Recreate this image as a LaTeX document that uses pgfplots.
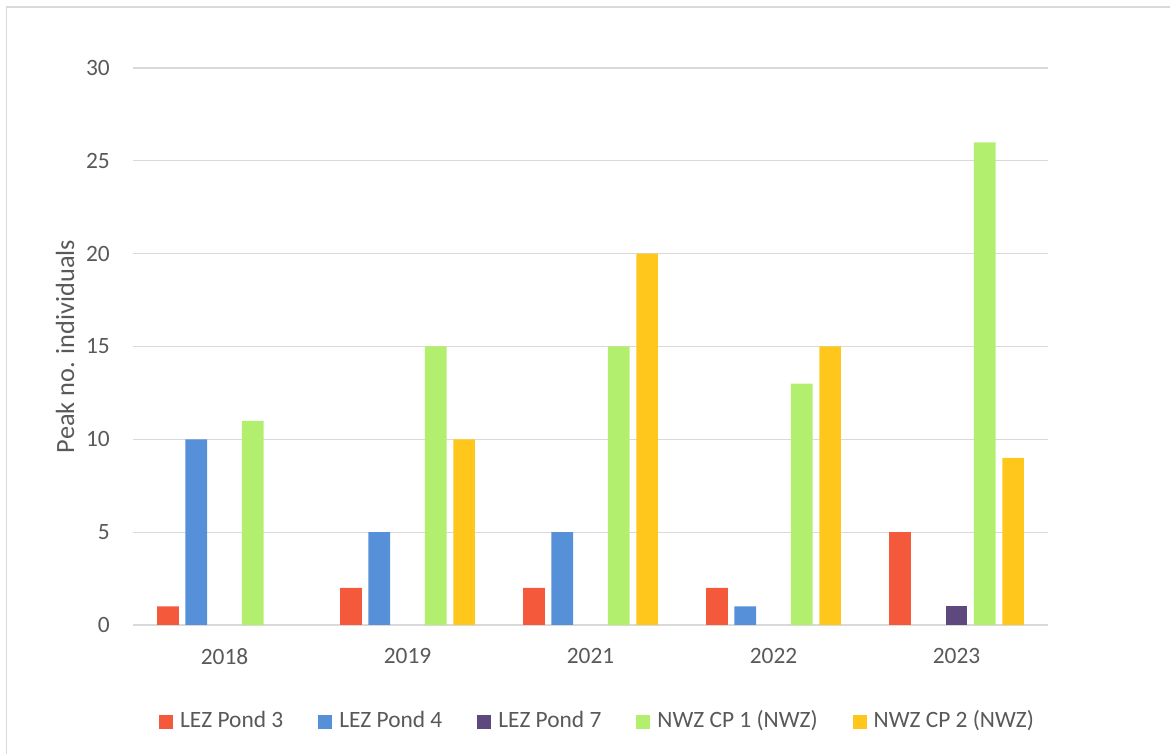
\documentclass[border=0pt]{standalone}
\usepackage{fontspec}
\setmainfont{Carlito}
\usepackage{pgfplots}
\pgfplotsset{compat=1.18}

\definecolor{lezthree}{HTML}{F4593B}
\definecolor{lezfour}{HTML}{5590D8}
\definecolor{lezseven}{HTML}{5E497E}
\definecolor{cpone}{HTML}{B3EF6E}
\definecolor{cptwo}{HTML}{FFC71C}
\definecolor{gridgray}{HTML}{D9D9D9}
\definecolor{textgray}{HTML}{595959}

\newcommand{\tickfont}{\fontsize{23.4}{28}\selectfont}
\newcommand{\titlefont}{\fontsize{26.3}{31}\selectfont}

\begin{document}
\begin{tikzpicture}
\useasboundingbox (0pt,0pt) rectangle (1170pt,754pt);
% chart frame
\draw[gridgray, line width=1.5pt] (6.5pt,0pt) -- (6.5pt,747pt) -- (1170pt,747pt);
\begin{axis}[
  at={(133pt,129pt)}, anchor=south west,
  scale only axis, width=915pt, height=557pt,
  ybar, bar width=21.7pt, ybar=6.6pt,
  xmin=-0.5, xmax=4.5, ymin=0, ymax=30,
  enlargelimits=false,
  xtick={0,1,2,3,4},
  xticklabels={2018,2019,2021,2022,2023},
  ytick={0,5,10,15,20,25,30},
  yticklabels={0,5,10,15,20,25,30},
  major tick length=0pt,
  axis x line*=bottom,
  axis y line*=left,
  x axis line style={gridgray, line width=1.6pt},
  y axis line style={draw=none},
  ymajorgrids,
  grid style={gridgray, line width=1.3pt},
  /pgf/number format/assume math mode=true,
  xticklabel style={font=\tickfont, text=textgray, anchor=north, inner sep=0pt, yshift=-23pt},
  yticklabel style={font=\tickfont, text=textgray, anchor=east, inner sep=0pt, xshift=-23pt},
  ylabel={Peak no. individuals},
  ylabel style={font=\titlefont, text=textgray, at={(axis description cs:-0.0743,0.5)}, anchor=center},
  legend columns=5,
  legend style={at={(axis description cs:0.5077,-0.1706)}, anchor=center, draw=none,
    font=\tickfont, text=textgray,
    /tikz/every odd column/.append style={column sep=5pt},
    /tikz/every even column/.append style={column sep=33pt}},
  legend image code/.code={\fill[#1] (0pt,-9pt) rectangle (14pt,5pt);},
  every axis plot/.append style={draw=none},
]
\addplot[fill=lezthree] coordinates {(0,1) (1,2) (2,2) (3,2) (4,5)};
\addplot[fill=lezfour] coordinates {(0,10) (1,5) (2,5) (3,1)};
\addplot[fill=lezseven] coordinates {(4,1)};
\addplot[fill=cpone] coordinates {(0,11) (1,15) (2,15) (3,13) (4,26)};
\addplot[fill=cptwo] coordinates {(1,10) (2,20) (3,15) (4,9)};
\legend{LEZ Pond 3, LEZ Pond 4, LEZ Pond 7, NWZ CP 1 (NWZ), NWZ CP 2 (NWZ)}
\end{axis}
\end{tikzpicture}
\end{document}
